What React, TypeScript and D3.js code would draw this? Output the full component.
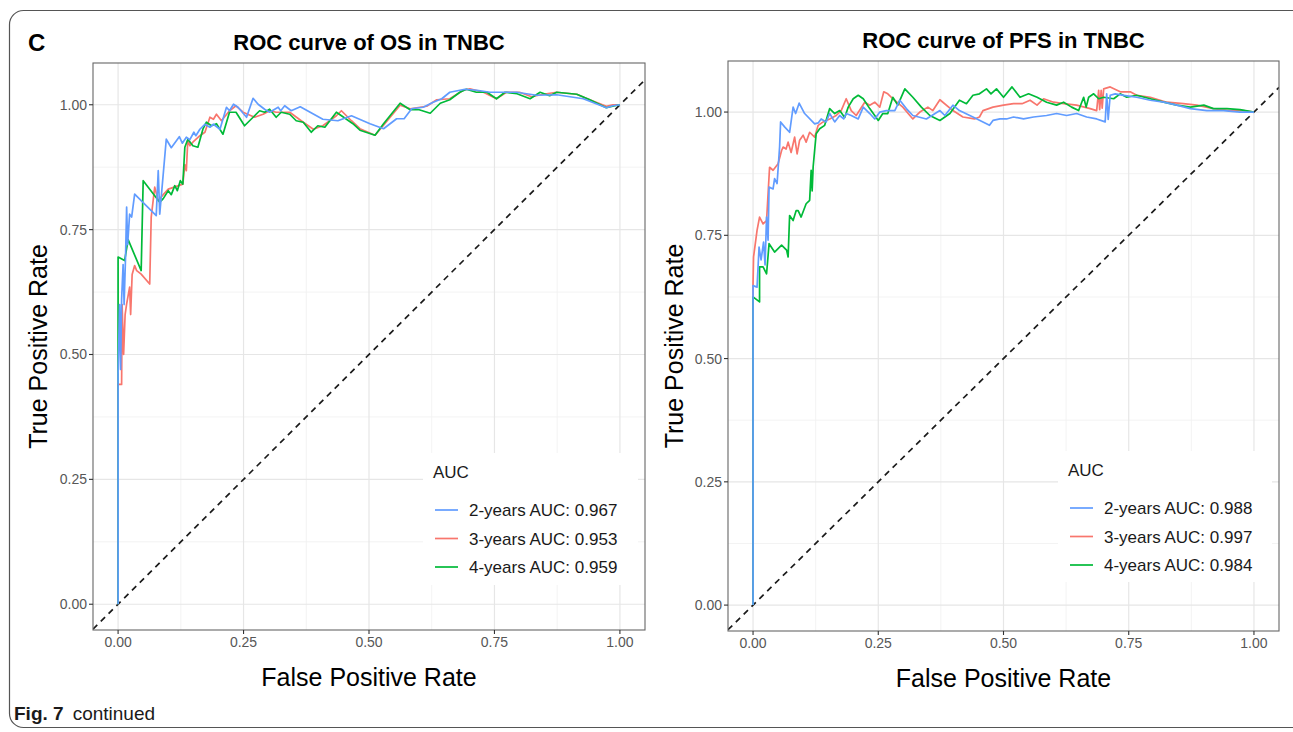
import React from "react";
import * as d3 from "d3";

type Pt = [number, number];

// ---------- DATA ----------
const seriesNames = ["2-years", "3-years", "4-years"];
const seriesColors = ["#619CFF", "#F8766D", "#00BA38"];
const drawOrder = [1, 2, 0];
const osAuc = [0.967, 0.953, 0.959];
const pfsAuc = [0.988, 0.997, 0.984];
const tickValues = [0, 0.25, 0.5, 0.75, 1];
const minorTickValues = [0.125, 0.375, 0.625, 0.875];

const os2Years: Pt[] = [[0,0],[0,0.46],[0.003,0.60],[0.005,0.47],[0.007,0.61],[0.010,0.68],[0.012,0.60],[0.015,0.70],[0.017,0.795],[0.019,0.72],[0.023,0.781],[0.027,0.775],[0.033,0.821],[0.076,0.778],[0.080,0.868],[0.083,0.781],[0.096,0.931],[0.106,0.914],[0.122,0.936],[0.128,0.923],[0.136,0.935],[0.143,0.930],[0.151,0.945],[0.155,0.938],[0.163,0.951],[0.173,0.961],[0.183,0.955],[0.190,0.961],[0.203,0.951],[0.216,0.995],[0.222,0.988],[0.230,1.001],[0.239,0.995],[0.256,0.975],[0.269,1.013],[0.279,1.001],[0.292,0.991],[0.302,0.985],[0.319,0.995],[0.324,0.988],[0.332,0.998],[0.345,0.988],[0.363,0.996],[0.408,0.971],[0.438,0.968],[0.465,0.978],[0.502,0.962],[0.529,0.952],[0.555,0.972],[0.570,0.972],[0.585,0.992],[0.608,0.995],[0.628,1.005],[0.645,1.012],[0.661,1.025],[0.691,1.031],[0.715,1.029],[0.741,1.025],[0.794,1.025],[0.834,1.019],[0.874,1.020],[0.927,1.012],[0.973,0.994],[0.986,0.998],[1,1]];
const os3Years: Pt[] = [[0,0],[0,0.44],[0.007,0.44],[0.008,0.60],[0.011,0.50],[0.014,0.58],[0.017,0.601],[0.023,0.635],[0.025,0.58],[0.028,0.66],[0.033,0.678],[0.037,0.668],[0.046,0.661],[0.063,0.641],[0.066,0.775],[0.073,0.835],[0.080,0.808],[0.090,0.820],[0.100,0.831],[0.112,0.835],[0.129,0.841],[0.133,0.880],[0.136,0.868],[0.139,0.931],[0.143,0.918],[0.149,0.925],[0.163,0.938],[0.173,0.945],[0.183,0.975],[0.190,0.971],[0.196,0.981],[0.206,0.968],[0.222,0.988],[0.235,0.998],[0.249,0.985],[0.272,0.975],[0.289,0.981],[0.302,0.988],[0.315,0.985],[0.342,0.985],[0.369,0.965],[0.389,0.951],[0.408,0.958],[0.435,0.978],[0.445,0.988],[0.465,0.968],[0.482,0.952],[0.512,0.939],[0.529,0.959],[0.562,0.999],[0.582,0.992],[0.615,0.997],[0.635,1.010],[0.661,1.012],[0.688,1.029],[0.701,1.032],[0.728,1.025],[0.754,1.012],[0.774,1.025],[0.800,1.025],[0.824,1.016],[0.847,1.021],[0.874,1.025],[0.914,1.021],[0.940,1.010],[0.973,0.997],[0.986,1.0],[1,1]];
const os4Years: Pt[] = [[0,0],[0,0.695],[0.013,0.688],[0.020,0.730],[0.046,0.668],[0.050,0.848],[0.060,0.835],[0.083,0.805],[0.090,0.812],[0.100,0.828],[0.106,0.820],[0.113,0.838],[0.118,0.828],[0.124,0.848],[0.129,0.841],[0.133,0.915],[0.139,0.931],[0.149,0.918],[0.159,0.915],[0.169,0.951],[0.176,0.965],[0.186,0.958],[0.196,0.962],[0.209,0.941],[0.222,0.985],[0.235,0.985],[0.252,0.958],[0.262,0.968],[0.282,0.988],[0.292,0.985],[0.302,0.991],[0.315,0.975],[0.325,0.985],[0.342,0.981],[0.355,0.968],[0.369,0.965],[0.385,0.945],[0.398,0.958],[0.412,0.955],[0.435,0.985],[0.448,0.976],[0.468,0.962],[0.482,0.949],[0.512,0.939],[0.529,0.962],[0.562,1.003],[0.582,0.990],[0.600,0.990],[0.622,0.983],[0.642,1.003],[0.661,1.010],[0.681,1.025],[0.694,1.031],[0.714,1.025],[0.735,1.025],[0.754,1.012],[0.771,1.025],[0.795,1.022],[0.821,1.012],[0.841,1.025],[0.860,1.018],[0.874,1.025],[0.914,1.021],[0.940,1.010],[0.973,0.994],[0.990,0.998],[1,1]];

const pfs2Years: Pt[] = [[0,0],[0,0.648],[0.008,0.645],[0.012,0.726],[0.016,0.70],[0.021,0.736],[0.024,0.69],[0.027,0.787],[0.030,0.74],[0.032,0.848],[0.040,0.844],[0.043,0.865],[0.048,0.855],[0.053,0.929],[0.055,0.980],[0.063,0.970],[0.073,0.959],[0.080,1.010],[0.085,0.997],[0.092,1.018],[0.103,0.997],[0.123,0.976],[0.130,0.978],[0.136,0.986],[0.146,0.980],[0.153,0.997],[0.163,0.980],[0.173,0.993],[0.181,0.986],[0.186,0.997],[0.196,0.993],[0.210,0.986],[0.220,1.010],[0.233,0.997],[0.243,0.986],[0.253,1.000],[0.266,1.003],[0.283,1.003],[0.293,1.024],[0.306,1.007],[0.319,0.993],[0.346,0.986],[0.373,1.003],[0.383,0.993],[0.399,1.014],[0.412,1.003],[0.439,0.990],[0.472,0.973],[0.479,0.983],[0.493,0.986],[0.506,0.986],[0.520,0.990],[0.540,0.986],[0.560,0.990],[0.586,0.993],[0.606,0.997],[0.626,0.993],[0.646,0.997],[0.666,0.990],[0.686,0.986],[0.703,0.980],[0.706,1.037],[0.709,0.985],[0.713,1.034],[0.723,1.037],[0.740,1.034],[0.766,1.030],[0.793,1.024],[0.820,1.020],[0.846,1.014],[0.873,1.007],[0.906,1.003],[0.939,1.003],[0.972,1.000],[1,1]];
const pfs3Years: Pt[] = [[0,0],[0,0.652],[0.001,0.706],[0.008,0.760],[0.013,0.787],[0.020,0.773],[0.027,0.780],[0.033,0.888],[0.040,0.882],[0.050,0.895],[0.057,0.922],[0.060,0.929],[0.066,0.925],[0.070,0.939],[0.076,0.918],[0.083,0.949],[0.088,0.915],[0.093,0.943],[0.100,0.953],[0.106,0.939],[0.113,0.959],[0.123,0.949],[0.130,0.973],[0.140,0.980],[0.153,0.986],[0.166,0.993],[0.176,1.003],[0.186,1.027],[0.196,1.003],[0.206,0.993],[0.223,1.020],[0.233,1.014],[0.243,1.020],[0.253,1.010],[0.261,1.041],[0.269,1.037],[0.279,1.027],[0.299,1.010],[0.319,0.986],[0.333,1.000],[0.349,1.010],[0.359,1.003],[0.373,1.025],[0.399,1.003],[0.419,0.990],[0.442,0.986],[0.452,0.990],[0.459,1.003],[0.479,1.010],[0.500,1.014],[0.520,1.017],[0.537,1.017],[0.553,1.024],[0.567,1.014],[0.580,1.027],[0.600,1.020],[0.620,1.017],[0.646,1.014],[0.673,1.007],[0.686,1.003],[0.690,1.044],[0.692,1.005],[0.695,1.044],[0.697,1.008],[0.700,1.047],[0.713,1.051],[0.733,1.041],[0.753,1.041],[0.766,1.034],[0.793,1.030],[0.826,1.020],[0.859,1.017],[0.886,1.014],[0.919,1.007],[0.952,1.003],[0.979,1.003],[1,1]];
const pfs4Years: Pt[] = [[0,0],[0,0.625],[0.013,0.615],[0.013,0.686],[0.020,0.686],[0.027,0.672],[0.032,0.733],[0.043,0.716],[0.057,0.730],[0.067,0.720],[0.070,0.706],[0.073,0.790],[0.080,0.780],[0.086,0.800],[0.090,0.800],[0.096,0.787],[0.106,0.814],[0.113,0.821],[0.116,0.882],[0.118,0.840],[0.120,0.889],[0.126,0.956],[0.133,0.966],[0.143,0.973],[0.153,1.007],[0.163,0.997],[0.173,1.003],[0.183,0.989],[0.190,1.010],[0.200,1.027],[0.210,1.034],[0.220,1.027],[0.233,1.007],[0.250,0.983],[0.259,0.997],[0.269,0.997],[0.279,1.030],[0.289,1.014],[0.303,1.047],[0.319,1.030],[0.336,1.010],[0.353,0.993],[0.373,0.983],[0.393,0.997],[0.412,1.024],[0.426,1.017],[0.439,1.034],[0.452,1.037],[0.466,1.047],[0.475,1.037],[0.486,1.047],[0.500,1.030],[0.517,1.051],[0.533,1.030],[0.550,1.037],[0.567,1.030],[0.586,1.020],[0.606,1.014],[0.620,1.020],[0.636,1.010],[0.650,1.003],[0.660,1.030],[0.665,1.010],[0.670,1.030],[0.680,1.037],[0.690,1.027],[0.700,1.030],[0.720,1.027],[0.733,1.037],[0.746,1.030],[0.766,1.034],[0.793,1.027],[0.820,1.020],[0.846,1.014],[0.873,1.010],[0.900,1.014],[0.919,1.007],[0.946,1.007],[0.972,1.005],[1,1]];

// ---------- LAYOUT ----------
const W = 1293;
const H = 732;
const FONT = "'Liberation Sans', Arial, Helvetica, sans-serif";

interface PanelProps {
  title: string;
  series: Pt[][];
  auc: number[];
  box: { x0: number; x1: number; y0: number; y1: number };
  legend: { x0: number; x1: number; y0: number; y1: number };
  yTitleX: number;
}

function Panel({ title, series, auc, box, legend, yTitleX }: PanelProps) {
  const allY = series.flat().map((p) => p[1]);
  const yMax = d3.max(allY) as number;
  const yMin = Math.min(0, d3.min(allY) as number);
  const yPad = (yMax - yMin) * 0.05;
  const x = d3.scaleLinear().domain([-0.05, 1.05]).range([box.x0, box.x1]);
  const y = d3.scaleLinear().domain([yMin - yPad, yMax + yPad]).range([box.y1, box.y0]);
  const line = d3
    .line<Pt>()
    .x((d) => x(d[0]))
    .y((d) => y(d[1]));
  const fmt = d3.format(".2f");
  const cx = (box.x0 + box.x1) / 2;
  const cy = (box.y0 + box.y1) / 2;
  const dLo = Math.max(x.domain()[0], y.domain()[0]);
  const dHi = Math.min(x.domain()[1], y.domain()[1]);
  const clipId = "clip" + box.x0;
  const rowGap = 28.5;
  return (
    <g>
      <defs>
        <clipPath id={clipId}>
          <rect x={box.x0} y={box.y0} width={box.x1 - box.x0} height={box.y1 - box.y0} />
        </clipPath>
      </defs>
      <rect x={box.x0} y={box.y0} width={box.x1 - box.x0} height={box.y1 - box.y0} fill="#fff" />
      {minorTickValues.map((t) => (
        <g key={"m" + t}>
          <line x1={x(t)} x2={x(t)} y1={box.y0} y2={box.y1} stroke="#f2f2f2" strokeWidth={0.9} />
          <line x1={box.x0} x2={box.x1} y1={y(t)} y2={y(t)} stroke="#f2f2f2" strokeWidth={0.9} />
        </g>
      ))}
      {tickValues.map((t) => (
        <g key={"g" + t}>
          <line x1={x(t)} x2={x(t)} y1={box.y0} y2={box.y1} stroke="#e6e6e6" strokeWidth={1.2} />
          <line x1={box.x0} x2={box.x1} y1={y(t)} y2={y(t)} stroke="#e6e6e6" strokeWidth={1.2} />
        </g>
      ))}
      <g clipPath={`url(#${clipId})`}>
        <line
          x1={x(dLo)}
          y1={y(dLo)}
          x2={x(dHi)}
          y2={y(dHi)}
          stroke="#1a1a1a"
          strokeWidth={1.7}
          strokeDasharray="6,5"
        />
        {drawOrder.map((i) => (
          <path key={i} d={line(series[i]) || ""} fill="none" stroke={seriesColors[i]} strokeWidth={1.7} strokeLinejoin="round" />
        ))}
      </g>
      {/* legend */}
      <rect x={legend.x0} y={legend.y0} width={legend.x1 - legend.x0} height={legend.y1 - legend.y0} fill="#fff" />
      <text x={legend.x0 + 10} y={legend.y0 + 25} fontSize={17} fill="#1a1a1a" fontFamily={FONT}>
        AUC
      </text>
      {seriesNames.map((n, i) => {
        const ry = legend.y0 + 57 + i * rowGap;
        return (
          <g key={n}>
            <line x1={legend.x0 + 12} x2={legend.x0 + 35} y1={ry} y2={ry} stroke={seriesColors[i]} strokeWidth={1.7} />
            <text x={legend.x0 + 46} y={ry + 6} fontSize={17} fill="#1a1a1a" fontFamily={FONT}>
              {`${n} AUC: ${d3.format(".3f")(auc[i])}`}
            </text>
          </g>
        );
      })}
      <rect
        x={box.x0}
        y={box.y0}
        width={box.x1 - box.x0}
        height={box.y1 - box.y0}
        fill="none"
        stroke="#666"
        strokeWidth={1.1}
      />
      {/* axes */}
      {tickValues.map((t) => (
        <g key={"t" + t}>
          <line x1={x(t)} x2={x(t)} y1={box.y1} y2={box.y1 + 4} stroke="#333" strokeWidth={1.1} />
          <text x={x(t)} y={box.y1 + 17} textAnchor="middle" fontSize={14} fill="#575757" fontFamily={FONT}>
            {fmt(t)}
          </text>
          <line x1={box.x0 - 4} x2={box.x0} y1={y(t)} y2={y(t)} stroke="#333" strokeWidth={1.1} />
          <text x={box.x0 - 6} y={y(t) + 5} textAnchor="end" fontSize={14} fill="#575757" fontFamily={FONT}>
            {fmt(t)}
          </text>
        </g>
      ))}
      <text x={cx} y={box.y0 - 13} textAnchor="middle" fontSize={22} fontWeight="bold" fill="#000" fontFamily={FONT}>
        {title}
      </text>
      <text x={cx} y={box.y1 + 56} textAnchor="middle" fontSize={25} fill="#000" fontFamily={FONT}>
        False Positive Rate
      </text>
      <text
        transform={`translate(${yTitleX},${cy}) rotate(-90)`}
        textAnchor="middle"
        fontSize={25}
        fill="#000"
        fontFamily={FONT}
      >
        True Positive Rate
      </text>
    </g>
  );
}

export default function App() {
  return (
    <svg
      width={W}
      height={H}
      style={{ position: "absolute", left: 0, top: 0, background: "#fff" }}
      xmlns="http://www.w3.org/2000/svg"
    >
      <rect x={0} y={0} width={W} height={H} fill="#fff" />
      <rect x={9.5} y={10.5} width={1300} height={717} rx={14} fill="none" stroke="#555" strokeWidth={1.2} />
      <text x={28} y={51} fontSize={24} fontWeight="bold" fontFamily={FONT} fill="#000">
        C
      </text>
      <Panel
        title="ROC curve of OS in TNBC"
        series={[os2Years, os3Years, os4Years]}
        auc={osAuc}
        box={{ x0: 93, x1: 645, y0: 63, y1: 630 }}
        legend={{ x0: 423, x1: 638, y0: 453, y1: 585 }}
        yTitleX={47}
      />
      <Panel
        title="ROC curve of PFS in TNBC"
        series={[pfs2Years, pfs3Years, pfs4Years]}
        auc={pfsAuc}
        box={{ x0: 728, x1: 1279, y0: 61, y1: 631 }}
        legend={{ x0: 1058, x1: 1272, y0: 451, y1: 582 }}
        yTitleX={683}
      />
      <text x={14} y={720} fontSize={19} fontFamily={FONT} fill="#1a1a1a">
        <tspan fontWeight="bold">Fig. 7</tspan>
        <tspan dx={9}>continued</tspan>
      </text>
    </svg>
  );
}
